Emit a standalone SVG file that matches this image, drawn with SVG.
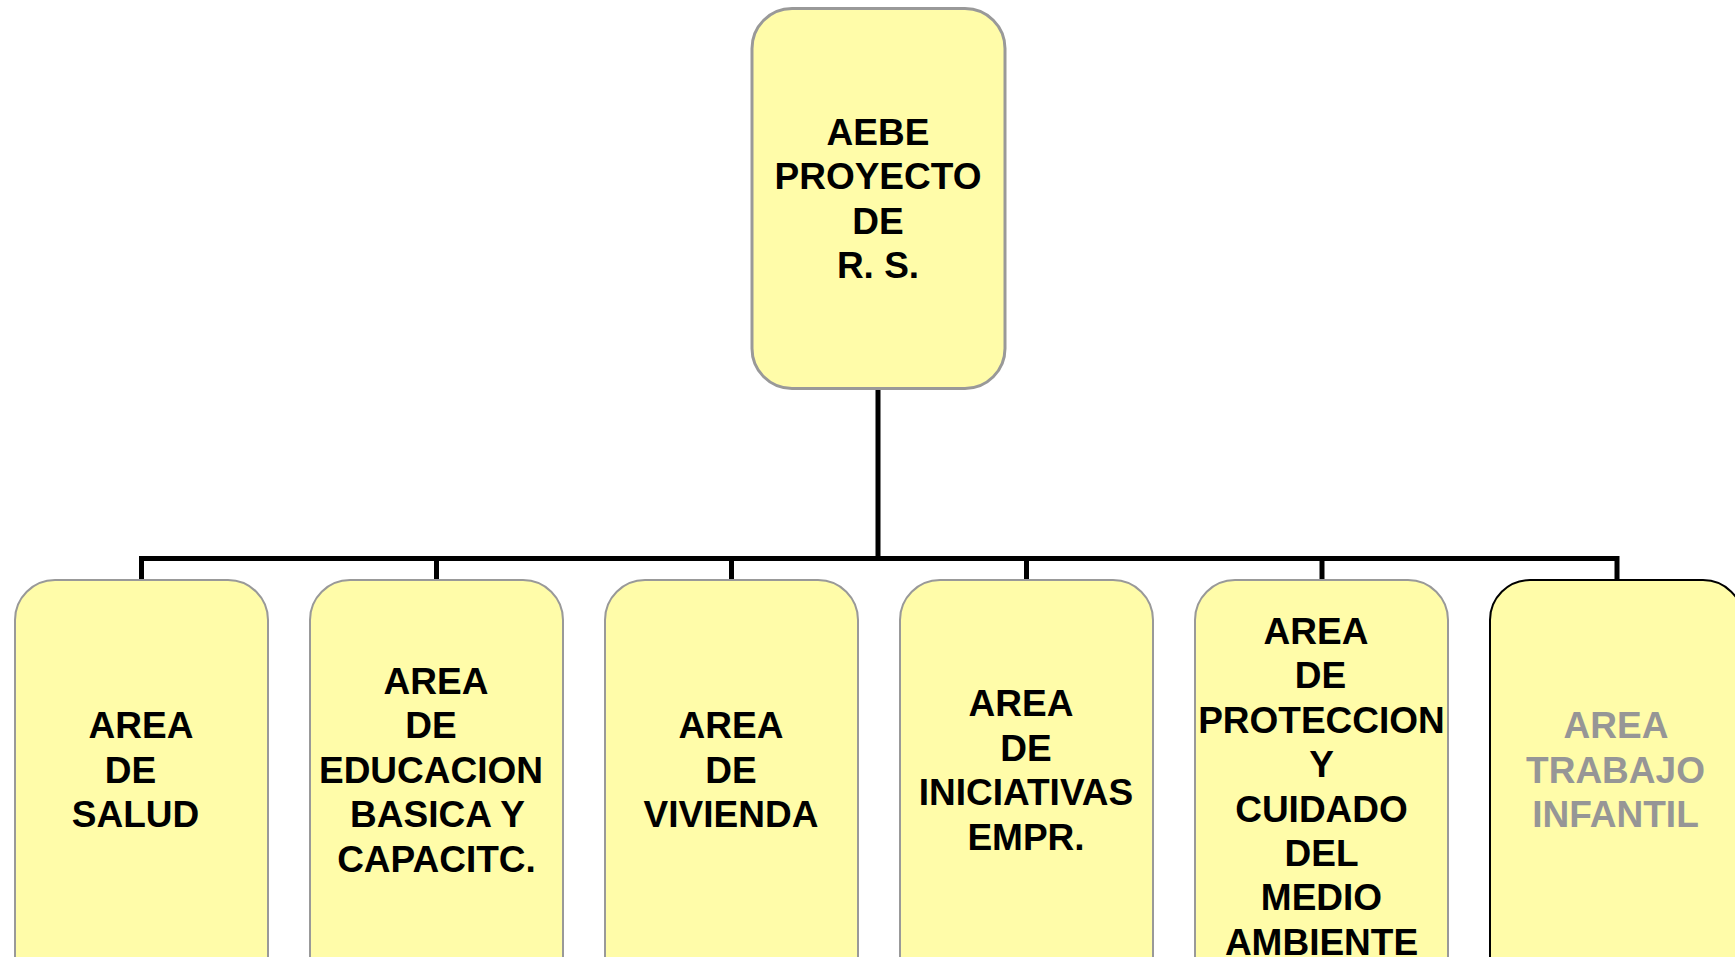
<svg xmlns="http://www.w3.org/2000/svg" width="1735" height="957" viewBox="0 0 1735 957">
<style>
.box{fill:#FFFCA9;stroke:#999999;stroke-width:2}
.top{stroke-width:3}
.dark{stroke:#000000;stroke-width:2}
.lbl{font-family:"Liberation Sans",Arial,sans-serif;font-weight:bold;font-size:37px;fill:#000000;text-anchor:middle}
.grey{fill:#969696}
.conn{fill:none;stroke:#000000;stroke-width:5;stroke-linejoin:miter}
</style>
<rect width="1735" height="957" fill="#FFFFFF"/>
<g id="connectors">
<line class="conn" x1="878" y1="389" x2="878" y2="559"/>
<path class="conn" d="M141.5,580 V558.5 H1617 V580"/>
<line class="conn" x1="436.5" y1="558.5" x2="436.5" y2="580"/>
<line class="conn" x1="731.5" y1="558.5" x2="731.5" y2="580"/>
<line class="conn" x1="1026.5" y1="558.5" x2="1026.5" y2="580"/>
<line class="conn" x1="1322" y1="558.5" x2="1322" y2="580"/>
</g>
<g id="node-aebe">
<rect class="box top" x="752" y="8.5" width="253" height="380" rx="40" ry="40"/>
<text class="lbl" x="878" y="145">AEBE</text>
<text class="lbl" x="878" y="189.4">PROYECTO</text>
<text class="lbl" x="878" y="233.8">DE</text>
<text class="lbl" x="878" y="278.2">R. S.</text>
</g>
<g id="node-salud">
<rect class="box" x="15" y="580" width="253" height="420" rx="40" ry="40"/>
<text class="lbl" x="141" y="738">AREA</text>
<text class="lbl" x="130.5" y="782.5">DE</text>
<text class="lbl" x="135.5" y="827">SALUD</text>
</g>
<g id="node-educacion">
<rect class="box" x="310" y="580" width="253" height="420" rx="40" ry="40"/>
<text class="lbl" x="436" y="693.5">AREA</text>
<text class="lbl" x="431" y="738">DE</text>
<text class="lbl" x="431" y="782.5">EDUCACION</text>
<text class="lbl" x="437.5" y="827">BASICA Y</text>
<text class="lbl" x="436.5" y="871.5">CAPACITC.</text>
</g>
<g id="node-vivienda">
<rect class="box" x="605" y="580" width="253" height="420" rx="40" ry="40"/>
<text class="lbl" x="731" y="738">AREA</text>
<text class="lbl" x="731" y="782.5">DE</text>
<text class="lbl" x="731" y="827">VIVIENDA</text>
</g>
<g id="node-iniciativas">
<rect class="box" x="900" y="580" width="253" height="420" rx="40" ry="40"/>
<text class="lbl" x="1021" y="716">AREA</text>
<text class="lbl" x="1026" y="760.5">DE</text>
<text class="lbl" x="1026" y="805">INICIATIVAS</text>
<text class="lbl" x="1026" y="849.5">EMPR.</text>
</g>
<g id="node-medioambiente">
<rect class="box" x="1195" y="580" width="253" height="420" rx="40" ry="40"/>
<text class="lbl" x="1316" y="644">AREA</text>
<text class="lbl" x="1320.5" y="688.4">DE</text>
<text class="lbl" x="1321.5" y="732.8">PROTECCION</text>
<text class="lbl" x="1321.5" y="777.2">Y</text>
<text class="lbl" x="1321.5" y="821.6">CUIDADO</text>
<text class="lbl" x="1321.5" y="866">DEL</text>
<text class="lbl" x="1321.5" y="910.4">MEDIO</text>
<text class="lbl" x="1321.5" y="954.8">AMBIENTE</text>
</g>
<g id="node-trabajoinfantil">
<rect class="box dark" x="1490" y="580" width="253" height="420" rx="40" ry="40"/>
<text class="lbl grey" x="1616" y="738">AREA</text>
<text class="lbl grey" x="1615.5" y="782.5">TRABAJO</text>
<text class="lbl grey" x="1615.5" y="827">INFANTIL</text>
</g>
</svg>
